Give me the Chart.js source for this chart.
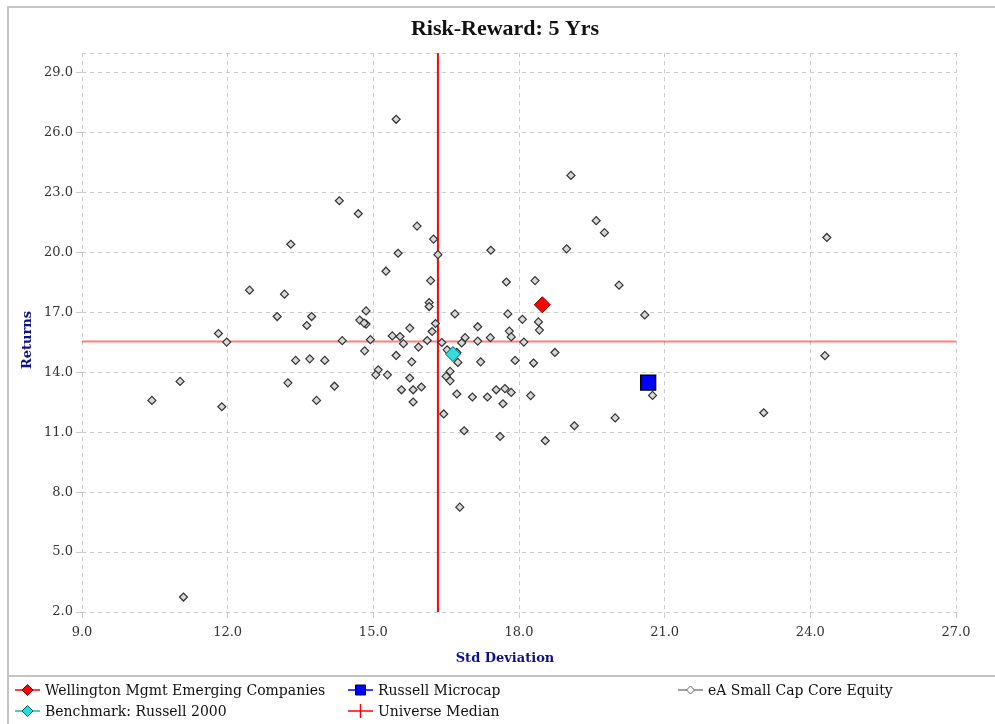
<!DOCTYPE html>
<html>
<head>
<meta charset="utf-8">
<title>Risk-Reward: 5 Yrs</title>
<script src="https://cdn.jsdelivr.net/npm/chart.js@4.4.0/dist/chart.umd.min.js"></script>
<style>
  html, body { margin: 0; padding: 0; background: #fff; }
  canvas { display: block; }
</style>
</head>
<body>
<canvas id="riskChart" width="995" height="724"></canvas>
<script>
// 5 yr std deviation (x) and annualized return (y)
const universeName = "eA Small Cap Core Equity";
const universeStdDev = [
  15.47, 14.30, 14.69, 13.30, 12.45, 13.17, 13.02, 13.73, 13.63, 14.85,
  14.72, 14.85, 14.81, 11.81, 11.98, 14.36, 14.94, 19.07, 19.59, 19.76,
  24.34, 15.90, 16.24, 16.33, 15.51, 17.42, 18.98, 15.26, 16.18, 17.74,
  18.33, 16.15, 16.15, 20.06, 16.68, 17.77, 18.07, 18.40, 18.42, 20.59,
  17.15, 17.80, 17.84, 16.28, 16.21, 15.75, 15.39, 15.55, 16.11, 16.89,
  17.41, 17.15, 18.10, 15.62, 15.93, 16.41, 16.82, 16.52, 16.72, 16.74,
  14.82, 15.47, 15.79, 17.21, 17.92, 18.30, 18.74, 15.10, 15.05, 15.29,
  15.75, 14.20, 15.58, 15.82, 15.99, 15.82, 16.58, 16.50, 16.58, 16.72,
  17.04, 17.35, 17.53, 17.71, 17.84, 17.67, 18.24, 16.45, 16.87, 17.61,
  18.54, 19.14, 16.78, 20.75, 23.04, 19.98, 24.30, 13.40, 13.69, 14.00,
  11.02, 13.24, 10.44, 11.88, 13.83, 11.09
];
const universeReturns = [
  26.68, 22.60, 21.95, 20.42, 18.12, 17.92, 16.80, 16.80, 16.35, 17.08,
  16.62, 16.42, 16.47, 15.95, 15.52, 15.59, 15.64, 23.87, 21.60, 21.00,
  20.76, 21.33, 20.68, 19.90, 19.97, 20.12, 20.19, 19.07, 18.60, 18.53,
  18.60, 17.50, 17.30, 18.37, 16.93, 16.93, 16.66, 16.53, 16.12, 16.88,
  16.29, 16.07, 15.78, 16.45, 16.05, 16.22, 15.83, 15.80, 15.60, 15.74,
  15.74, 15.57, 15.52, 15.44, 15.27, 15.50, 15.48, 15.13, 15.00, 14.50,
  15.08, 14.85, 14.53, 14.53, 14.60, 14.47, 15.00, 14.13, 13.88, 13.88,
  13.72, 13.31, 13.13, 13.13, 13.27, 12.52, 14.05, 13.80, 13.58, 12.92,
  12.77, 12.77, 13.13, 13.19, 13.00, 12.43, 12.84, 11.92, 11.08, 10.79,
  10.58, 11.33, 7.25, 12.85, 11.98, 11.72, 14.84, 14.60, 14.68, 14.60,
  13.55, 13.48, 12.60, 12.28, 12.60, 2.75
];

const managerNames = ["Wellington Mgmt Emerging Companies", "Russell Microcap", "Benchmark: Russell 2000"];
const managerStdDev = [18.48, 20.66, 16.64];
const managerReturns = [17.39, 13.49, 14.92];

const medianLabel = "Universe Median";
const medianStdDev = 16.33;
const medianReturn = 15.55;

const chartTitle = "Risk-Reward: 5 Yrs";
const xTitle = "Std Deviation";
const yTitle = "Returns";
const xTickValues = [9, 12, 15, 18, 21, 24, 27];
const yTickValues = [2, 5, 8, 11, 14, 17, 20, 23, 26, 29];
const yMax = 30;

const FONT = '"DejaVu Serif", serif';
const GRID = '#cccccc';

const universePoints = universeStdDev.map((x, i) => ({ x: x, y: universeReturns[i] }));
const managerPoint = (i) => [{ x: managerStdDev[i], y: managerReturns[i] }];

// legend: which dataset goes where, plus how its symbol looks
const legendCols = [15, 348, 678];
const legendRows = [690, 711];
const legendSlots = [
  { ds: 0, col: 0, row: 0, line: '#ff0000', shape: 'diamond', r: 5.5, fill: '#ff0000', stroke: '#800000' },
  { ds: 1, col: 1, row: 0, line: '#0000ff', shape: 'rect', r: 5, fill: '#0000ff', stroke: '#000040' },
  { ds: 3, col: 2, row: 0, line: '#808080', shape: 'diamond', r: 4, fill: '#ffffff', stroke: '#606060' },
  { ds: 2, col: 0, row: 1, line: '#20b0b0', shape: 'diamond', r: 5.5, fill: '#22dddd', stroke: '#006060' },
  { ds: 4, col: 1, row: 1, line: '#ff0000', shape: 'cross', r: 7 }
];

function drawMarker(ctx, s, x, y) {
  ctx.beginPath();
  if (s.shape === 'rect') {
    ctx.rect(x - s.r, y - s.r, 2 * s.r, 2 * s.r);
  } else if (s.shape === 'diamond') {
    ctx.moveTo(x, y - s.r);
    ctx.lineTo(x + s.r, y);
    ctx.lineTo(x, y + s.r);
    ctx.lineTo(x - s.r, y);
    ctx.closePath();
  } else {
    ctx.moveTo(x, y - s.r);
    ctx.lineTo(x, y + s.r);
    ctx.strokeStyle = s.line;
    ctx.lineWidth = 1.5;
    ctx.stroke();
    return;
  }
  ctx.fillStyle = s.fill;
  ctx.fill();
  ctx.lineWidth = 1;
  ctx.strokeStyle = s.stroke;
  ctx.stroke();
}

const decor = {
  id: 'decor',
  beforeDraw(chart) {
    const ctx = chart.ctx;
    ctx.save();
    ctx.fillStyle = '#fff';
    ctx.fillRect(0, 0, chart.width, chart.height);
    ctx.strokeStyle = '#c4c4c4';
    ctx.lineWidth = 2;
    ctx.beginPath();
    ctx.moveTo(8, chart.height);
    ctx.lineTo(8, 7);
    ctx.lineTo(chart.width, 7);
    ctx.moveTo(8, 676);
    ctx.lineTo(chart.width, 676);
    ctx.stroke();
    ctx.restore();
  },
  afterDraw(chart) {
    const ctx = chart.ctx;
    ctx.save();
    ctx.textAlign = 'center';
    ctx.textBaseline = 'middle';
    ctx.fillStyle = '#111';
    ctx.font = 'bold 22px "Liberation Serif", serif';
    ctx.fillText(chartTitle, 505, 29);

    ctx.fillStyle = '#10108a';
    ctx.font = 'bold 13px ' + FONT;
    ctx.fillText(xTitle, 505, 659);
    ctx.save();
    ctx.translate(28, 340);
    ctx.rotate(-Math.PI / 2);
    ctx.fillText(yTitle, 0, 0);
    ctx.restore();

    // legend
    ctx.textAlign = 'left';
    ctx.font = '14px ' + FONT;
    legendSlots.forEach((s) => {
      const x = legendCols[s.col];
      const y = legendRows[s.row];
      ctx.strokeStyle = s.line;
      ctx.lineWidth = 1.5;
      ctx.beginPath();
      ctx.moveTo(x, y);
      ctx.lineTo(x + 25, y);
      ctx.stroke();
      drawMarker(ctx, s, x + 12.5, y);
      ctx.fillStyle = '#111';
      ctx.fillText(chart.data.datasets[s.ds].label, x + 30, y + 1);
    });
    ctx.restore();
  }
};

new Chart(document.getElementById('riskChart'), {
  type: 'scatter',
  data: {
    datasets: [
      {
        label: managerNames[0],
        data: managerPoint(0),
        pointStyle: 'rectRot',
        pointRadius: 8,
        backgroundColor: '#ff0000',
        borderColor: '#7a0000',
        borderWidth: 1
      },
      {
        label: managerNames[1],
        data: managerPoint(1),
        pointStyle: 'rect',
        pointRadius: 10.5,
        backgroundColor: '#0000ff',
        borderColor: '#000000',
        borderWidth: 1.5
      },
      {
        label: managerNames[2],
        data: managerPoint(2),
        pointStyle: 'rectRot',
        pointRadius: 7.5,
        backgroundColor: '#33dddd',
        borderColor: '#006666',
        borderWidth: 1
      },
      {
        label: universeName,
        data: universePoints,
        pointStyle: 'rectRot',
        pointRadius: 4,
        backgroundColor: '#d8d8d8',
        borderColor: '#333333',
        borderWidth: 1.2
      },
      {
        label: medianLabel,
        data: [{ x: medianStdDev, y: yTickValues[0] }, { x: medianStdDev, y: yMax }],
        showLine: true,
        pointRadius: 0,
        borderColor: '#ff0000',
        borderWidth: 2
      },
      {
        label: medianLabel,
        data: [{ x: xTickValues[0], y: medianReturn }, { x: xTickValues[xTickValues.length - 1], y: medianReturn }],
        showLine: true,
        pointRadius: 0,
        borderColor: 'rgba(255, 0, 0, 0.5)',
        borderWidth: 2
      }
    ]
  },
  options: {
    responsive: false,
    animation: false,
    events: [],
    layout: { padding: { left: 8, top: 53, right: 39, bottom: 48 } },
    plugins: {
      legend: { display: false },
      title: { display: false },
      tooltip: { enabled: false }
    },
    scales: {
      x: {
        type: 'linear',
        min: xTickValues[0],
        max: xTickValues[xTickValues.length - 1],
        afterBuildTicks: (scale) => { scale.ticks = xTickValues.map((v) => ({ value: v })); },
        afterFit: (scale) => { scale.height = 64; },
        ticks: {
          padding: 7,
          color: '#333',
          font: { family: FONT, size: 13 },
          callback: (v) => Number(v).toFixed(1)
        },
        grid: { color: GRID, tickColor: GRID, tickLength: 6 },
        border: { display: false, dash: [4, 4] }
      },
      y: {
        type: 'linear',
        min: yTickValues[0],
        max: yMax,
        afterBuildTicks: (scale) => { scale.ticks = yTickValues.concat([yMax]).map((v) => ({ value: v })); },
        afterFit: (scale) => { scale.width = 74; },
        ticks: {
          padding: 3,
          color: '#333',
          font: { family: FONT, size: 13 },
          callback: (v) => (v === yMax ? '' : Number(v).toFixed(1))
        },
        grid: {
          color: GRID,
          tickLength: 6,
          tickColor: (c) => (c.tick && c.tick.value === yMax ? 'rgba(0,0,0,0)' : GRID)
        },
        border: { display: false, dash: [4, 4] }
      }
    }
  },
  plugins: [decor]
});
</script>
</body>
</html>
